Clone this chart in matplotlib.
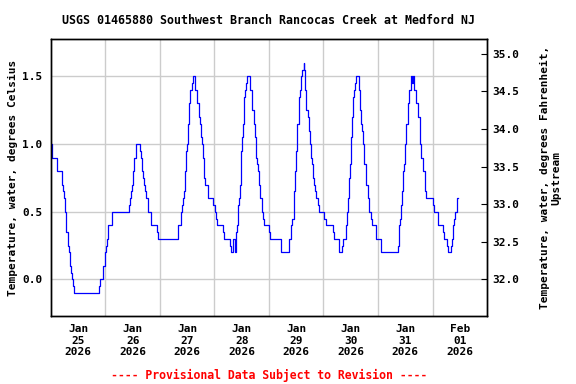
import numpy as np
import matplotlib
matplotlib.use("Agg")
import matplotlib.pyplot as plt

# hours since 2026-01-25 00:00 where the reading changes, and the new value (deg C)
hours = [0.0, 0.59, 2.5, 4.7, 5.14, 5.58, 6.17, 6.75, 7.34, 7.93, 8.37, 8.81, 9.1, 9.84, 10.28,
         21.3, 21.7, 23.05, 23.64, 24.08, 24.52, 25.26, 27.0, 34.4, 34.8, 35.2, 35.7, 36.3, 36.7,
         37.3, 39.2, 39.6, 40.1, 40.7, 41.1, 41.6, 42.0, 42.9, 44.2, 46.7, 47.3, 56.1, 57.3, 57.9,
         58.3, 58.7, 59.2, 59.6, 60.1, 60.5, 60.9, 61.4, 62.1, 62.6, 63.6, 64.5, 65.1, 65.5, 65.9,
         66.4, 66.8, 67.3, 67.5, 68.0, 69.3, 71.5, 72.1, 72.5, 73.0, 75.8, 76.2, 79.0, 79.3, 80.2,
         80.9, 81.4, 81.6, 82.1, 82.5, 83.0, 83.4, 83.7, 84.1, 84.6, 85.0, 85.5, 85.9, 86.5, 87.8,
         88.7, 89.4, 89.9, 90.3, 90.7, 91.2, 91.6, 92.1, 92.8, 93.2, 93.8, 96.0, 96.6, 101.2, 104.6,
         105.0, 105.9, 106.3, 106.8, 107.2, 107.6, 108.1, 108.5, 109.0, 109.4, 109.8, 110.3, 110.7,
         111.2, 111.5, 111.9, 112.5, 113.1, 113.5, 114.0, 114.4, 114.8, 115.3, 115.7, 116.2, 116.6,
         117.8, 118.2, 120.4, 120.9, 124.4, 124.8, 127.0, 128.2, 128.7, 130.0, 130.4, 130.8, 131.3,
         131.7, 132.2, 132.6, 133.1, 133.5, 133.9, 134.4, 135.7, 136.1, 136.6, 137.0, 137.6, 138.0,
         138.5, 138.9, 139.4, 139.8, 140.2, 140.8, 141.4, 143.3, 145.5, 153.0, 153.4, 153.9, 154.3,
         154.7, 155.2, 155.6, 156.1, 156.5, 157.0, 157.4, 157.8, 158.4, 159.0, 159.3, 160.0, 160.9,
         161.4, 161.8, 162.3, 162.7, 163.1, 163.6, 164.0, 164.5, 164.9, 165.3, 168.1, 168.6, 170.2,
         172.7, 173.1, 174.3, 174.7, 176.2, 176.6, 177.1, 177.5, 177.9, 178.7, 179.0, 179.4]
temps = [1.0, 0.9, 0.8, 0.7, 0.65, 0.6, 0.5, 0.35, 0.25, 0.2, 0.1, 0.05, 0.0, -0.05, -0.1,
         -0.05, 0.0, 0.1, 0.2, 0.25, 0.3, 0.4, 0.5, 0.55, 0.6, 0.65, 0.7, 0.8, 0.9,
         1.0, 0.95, 0.9, 0.8, 0.75, 0.7, 0.65, 0.6, 0.5, 0.4, 0.35, 0.3, 0.4, 0.5, 0.55,
         0.6, 0.65, 0.8, 0.95, 1.0, 1.15, 1.3, 1.4, 1.45, 1.5, 1.4, 1.3, 1.2, 1.15, 1.05,
         1.0, 0.9, 0.8, 0.75, 0.7, 0.6, 0.55, 0.5, 0.45, 0.4, 0.35, 0.3, 0.25, 0.2, 0.3,
         0.2, 0.25, 0.35, 0.4, 0.55, 0.6, 0.7, 0.95, 1.05, 1.15, 1.35, 1.4, 1.45, 1.5, 1.4,
         1.25, 1.15, 1.05, 0.9, 0.85, 0.8, 0.7, 0.6, 0.5, 0.45, 0.4, 0.35, 0.3, 0.2, 0.25,
         0.3, 0.4, 0.45, 0.55, 0.65, 0.8, 0.95, 1.15, 1.25, 1.35, 1.4, 1.5, 1.55,
         1.6, 1.55, 1.4, 1.25, 1.2, 1.1, 1.0, 0.9, 0.85, 0.75, 0.7, 0.65, 0.6,
         0.55, 0.5, 0.45, 0.4, 0.35, 0.3, 0.2, 0.25, 0.3, 0.4, 0.5, 0.6, 0.75,
         0.85, 1.05, 1.2, 1.35, 1.4, 1.45, 1.5, 1.4, 1.25, 1.15, 1.1, 1.0, 0.85,
         0.75, 0.7, 0.65, 0.6, 0.5, 0.45, 0.4, 0.3, 0.2, 0.25, 0.4, 0.45, 0.55,
         0.65, 0.8, 0.85, 1.0, 1.15, 1.25, 1.3, 1.4, 1.5, 1.45, 1.5, 1.4, 1.3,
         1.25, 1.2, 1.1, 1.0, 0.9, 0.85, 0.8, 0.7, 0.65, 0.6, 0.55, 0.5, 0.4,
         0.35, 0.3, 0.25, 0.2, 0.25, 0.3, 0.4, 0.45, 0.5, 0.55, 0.6, 0.6]

day_labels = ["Jan\n25\n2026", "Jan\n26\n2026", "Jan\n27\n2026", "Jan\n28\n2026",
              "Jan\n29\n2026", "Jan\n30\n2026", "Jan\n31\n2026", "Feb\n01\n2026"]
c_ticks = [0.0, 0.5, 1.0, 1.5]
f_ticks = [32.0, 32.5, 33.0, 33.5, 34.0, 34.5, 35.0]

title = "USGS 01465880 Southwest Branch Rancocas Creek at Medford NJ"

start = np.datetime64("2026-01-25T00:00")
times = start + (np.array(hours) * 60).astype("int64").astype("timedelta64[m]")

font = "DejaVu Sans Mono"
plt.rcParams["font.family"] = font
plt.rcParams["font.weight"] = "bold"

fig = plt.figure(figsize=(5.76, 3.84), dpi=100)
ax = fig.add_axes([0.0885, 0.177, 0.757, 0.721])

ax.plot(times, temps, drawstyle="steps-post", color="#0000ff", lw=0.9)

day_starts = start + np.arange(9).astype("timedelta64[D]")
noons = start + np.arange(8).astype("timedelta64[D]") + np.timedelta64(12, "h")
ax.set_xlim(day_starts[0], day_starts[-1])
ax.set_xticks(day_starts[1:-1], minor=True)
ax.set_xticks(noons)
ax.set_xticklabels(day_labels, fontsize=8, fontweight="bold", linespacing=1.15)
ax.tick_params(axis="x", which="both", length=0, pad=6)
ax.grid(True, which="minor", axis="x", color="#cccccc", lw=1)

cmin, cmax = -0.27, 1.775
ax.set_ylim(cmin, cmax)
ax.set_yticks(c_ticks)
ax.set_yticklabels(["%.1f" % v for v in c_ticks], fontsize=8, fontweight="bold")
ax.tick_params(axis="y", length=0, pad=6)
ax.grid(True, which="major", axis="y", color="#cccccc", lw=1)
ax.set_axisbelow(True)
ax.set_ylabel("Temperature, water, degrees Celsius", fontsize=8, fontweight="bold", labelpad=3)

ax2 = ax.twinx()
ax2.set_ylim(cmin * 1.8 + 32, cmax * 1.8 + 32)
ax2.set_yticks(f_ticks)
ax2.set_yticklabels(["%.1f" % v for v in f_ticks], fontsize=8, fontweight="bold")
ax2.tick_params(axis="y", direction="in", length=4, pad=4)
ax2.set_ylabel("Temperature, water, degrees Fahrenheit,\nUpstream", fontsize=8,
               fontweight="bold", labelpad=15, linespacing=1.1)

for a in (ax, ax2):
    for s in a.spines.values():
        s.set_linewidth(1)
        s.set_color("black")

fig.text(0.467, 0.947, title, ha="center", va="center", fontsize=8.4, fontweight="bold")
fig.text(0.467, 0.023, "---- Provisional Data Subject to Revision ----", ha="center",
         va="center", fontsize=8.3, fontweight="bold", color="red")

fig.savefig("out.png", dpi=100)
